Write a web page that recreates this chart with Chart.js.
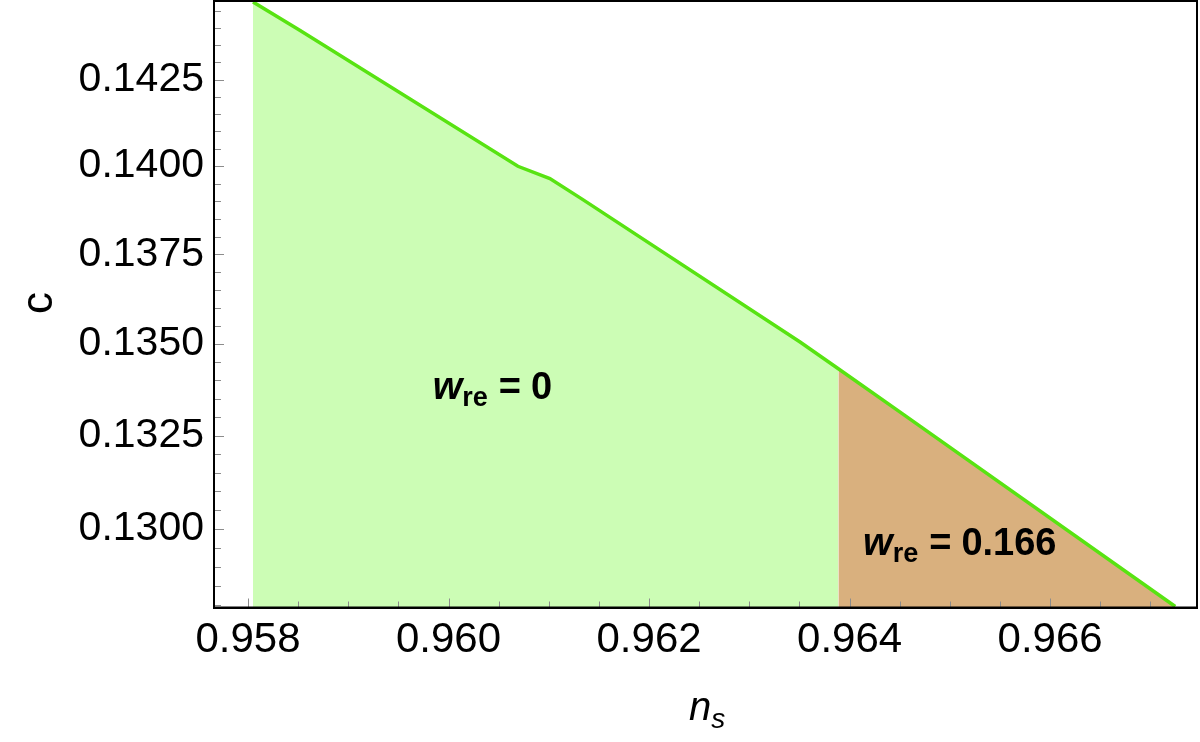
<!DOCTYPE html>
<html>
<head>
<meta charset="utf-8">
<script src="https://cdn.jsdelivr.net/npm/chart.js@4.4.1/dist/chart.umd.min.js"></script>
<style>
html,body{margin:0;padding:0;background:#fff;}
#wrap{width:1200px;height:742px;position:relative;}
</style>
</head>
<body>
<div id="wrap"><canvas id="c" width="1200" height="742"></canvas></div>
<script>
// ---- data ----
const boundaryNs = [0.95805, 0.958516, 0.960692, 0.961011, 0.961340, 0.963506, 0.963888, 0.964504, 0.967248];
const boundaryC  = [0.144779, 0.143944, 0.139996, 0.139644, 0.139046, 0.135056, 0.134323, 0.133136, 0.127951];
const splitIndex = 6; // boundary point where w_re = 0.166 region begins (ns ≈ 0.96389)
const xTickValues = [0.958, 0.960, 0.962, 0.964, 0.966];
const yTickValues = [0.1300, 0.1325, 0.1350, 0.1375, 0.1400, 0.1425];
const xMinorTicks = [0.9580,0.9585,0.9590,0.9595,0.9600,0.9605,0.9610,0.9615,0.9620,0.9625,0.9630,0.9635,0.9640,0.9645,0.9650,0.9655,0.9660,0.9665,0.9670];
const yMinorTicks = [0.1280,0.1285,0.1290,0.1295,0.1300,0.1305,0.1310,0.1315,0.1320,0.1325,0.1330,0.1335,0.1340,0.1345,0.1350,0.1355,0.1360,0.1365,0.1370,0.1375,0.1380,0.1385,0.1390,0.1395,0.1400,0.1405,0.1410,0.1415,0.1420,0.1425,0.1430,0.1435,0.1440,0.1445];
const labels = [
  {text:'0', ns:0.959843, c:0.133483},
  {text:'0.166', ns:0.964135, c:0.129292}
];
const xLabel = {main:'n', sub:'s'};
const yLabel = 'c';

const pts = boundaryNs.map((x,i)=>({x:x, y:boundaryC[i]}));
const greenPts = pts.slice(0, splitIndex+1);
const brownPts = pts.slice(splitIndex);

const FONT = '"Liberation Sans", Arial, Helvetica, sans-serif';

const decor = {
  id:'decor',
  afterDraw(chart){
    const ctx = chart.ctx, a = chart.chartArea;
    const xs = chart.scales.x, ys = chart.scales.y;
    ctx.save();
    // tick marks (inward)
    ctx.strokeStyle = '#8c8c8c';
    ctx.lineWidth = 1;
    xMinorTicks.forEach(v=>{
      const major = xTickValues.some(t=>Math.abs(t-v)<1e-9);
      const px = Math.round(xs.getPixelForValue(v))+0.5;
      ctx.beginPath(); ctx.moveTo(px, a.bottom); ctx.lineTo(px, a.bottom-(major?9:6)); ctx.stroke();
    });
    yMinorTicks.forEach(v=>{
      const major = yTickValues.some(t=>Math.abs(t-v)<1e-9);
      const py = Math.round(ys.getPixelForValue(v))+0.5;
      ctx.beginPath(); ctx.moveTo(a.left, py); ctx.lineTo(a.left+(major?10:7), py); ctx.stroke();
    });
    // frame
    ctx.strokeStyle = '#000';
    ctx.lineWidth = 2;
    ctx.strokeRect(a.left, a.top, a.right-a.left, a.bottom-a.top);
    // region annotations
    ctx.fillStyle = '#000';
    ctx.textBaseline = 'alphabetic';
    ctx.textAlign = 'left';
    labels.forEach(l=>{
      let x = xs.getPixelForValue(l.ns), y = ys.getPixelForValue(l.c);
      ctx.font = 'italic bold 38px ' + FONT;
      ctx.fillText('w', x, y);
      x += ctx.measureText('w').width;
      ctx.font = 'bold 27px ' + FONT;
      ctx.fillText('re', x, y+7);
      x += ctx.measureText('re').width + 11;
      ctx.font = 'bold 38px ' + FONT;
      ctx.fillText('=', x, y);
      x += ctx.measureText('=').width + 10;
      ctx.fillText(l.text, x, y);
    });
    // axis titles
    ctx.font = 'italic 40px ' + FONT;
    ctx.fillText(xLabel.main, 689, 720);
    const nw = ctx.measureText(xLabel.main).width;
    ctx.font = 'italic 28px ' + FONT;
    ctx.fillText(xLabel.sub, 689+nw, 728);
    ctx.save();
    ctx.translate(52, 303);
    ctx.rotate(-Math.PI/2);
    ctx.font = '44px ' + FONT;
    ctx.textAlign = 'center';
    ctx.fillText(yLabel, 0, 0);
    ctx.restore();
    ctx.restore();
  }
};

new Chart(document.getElementById('c'), {
  type:'line',
  data:{
    datasets:[
      {data:pts, borderColor:'#58e312', borderWidth:3.5, pointRadius:0, fill:false, tension:0, order:0},
      {data:brownPts, borderWidth:0, borderColor:'rgba(0,0,0,0)', backgroundColor:'#d9b07e', pointRadius:0, fill:'start', tension:0, order:1},
      {data:greenPts, borderWidth:0, borderColor:'rgba(0,0,0,0)', backgroundColor:'#ccfdb5', pointRadius:0, fill:'start', tension:0, order:2}
    ]
  },
  options:{
    responsive:false,
    animation:false,
    layout:{padding:{top:1, right:3, left:0, bottom:0}},
    plugins:{legend:{display:false}, tooltip:{enabled:false}, title:{display:false}},
    scales:{
      x:{
        type:'linear', min:0.957661, max:0.967465,
        afterBuildTicks(s){ s.ticks = xTickValues.map(v=>({value:v})); },
        afterFit(s){ s.height = 134.5; s.paddingLeft = 0; s.paddingRight = 0; },
        grid:{display:false},
        border:{display:true, color:'#000', width:2},
        ticks:{padding:0, color:'#000', font:{family:FONT, size:42}, callback:(v)=>Number(v).toFixed(3), maxRotation:0, autoSkip:false}
      },
      y:{
        type:'logarithmic', min:0.127925, max:0.144806,
        afterBuildTicks(s){ s.ticks = yTickValues.map(v=>({value:v})); },
        afterFit(s){ s.width = 214; s.paddingTop = 0; s.paddingBottom = 0; },
        grid:{display:false},
        border:{display:true, color:'#000', width:2},
        ticks:{padding:2, color:'#000', font:{family:FONT, size:41}, callback:(v)=>Number(v).toFixed(4), autoSkip:false}
      }
    }
  },
  plugins:[decor]
});
</script>
</body>
</html>
